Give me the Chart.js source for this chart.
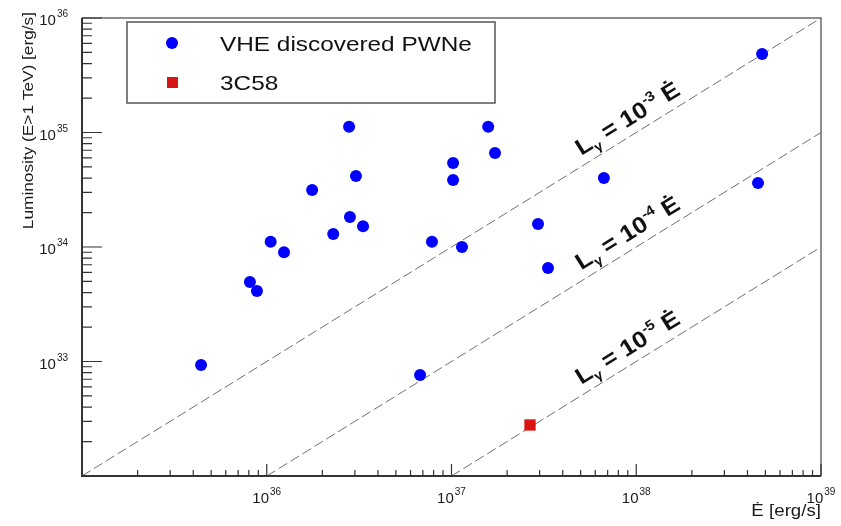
<!DOCTYPE html>
<html>
<head>
<meta charset="utf-8">
<script src="https://cdn.jsdelivr.net/npm/chart.js@4/dist/chart.umd.min.js"></script>
<style>
  html, body { margin: 0; padding: 0; background: #fff; }
  canvas { display: block; }
</style>
</head>
<body>
<canvas id="pwn-chart" width="841" height="526"></canvas>
<script>
// Spin-down power vs TeV luminosity of pulsar wind nebulae
const pwneEdot = [4.41e35, 8.11e35, 8.85e35, 1.05e36, 1.24e36, 1.76e36, 2.29e36, 2.79e36,
  2.82e36, 3.04e36, 3.32e36, 6.76e36, 7.84e36, 1.02e37, 1.02e37, 1.14e37, 1.58e37, 1.72e37,
  2.94e37, 3.33e37, 6.68e37, 4.80e38, 4.56e38];
const pwneLum = [9.3e32, 4.94e33, 4.13e33, 1.11e34, 9.0e33, 3.15e34, 1.30e34, 1.12e35,
  1.83e34, 4.17e34, 1.52e34, 7.62e32, 1.11e34, 5.42e34, 3.85e34, 1.0e34, 1.12e35, 6.62e34,
  1.59e34, 6.56e33, 4.01e34, 4.85e35, 3.62e34];
const c58Edot = [2.66e37];
const c58Lum = [2.79e32];

// efficiency lines L = eta * Edot
const etaValues = [1e-3, 1e-4, 1e-5];
const etaExponents = ['-3', '-4', '-5'];

const xRange = [1e35, 1e39];
const yRange = [1e32, 1e36];
const xTickLabels = ['36', '37', '38', '39'];
const yTickLabels = ['33', '34', '35', '36'];

const FONT = '"Liberation Sans", Arial, Helvetica, sans-serif';
const STRETCH = 1.15;

function toPoints(xs, ys) {
  return xs.map((x, i) => ({ x: x, y: ys[i] }));
}

// dashed line from the bottom edge of the frame up to the right edge
function etaLine(eta) {
  const start = Math.max(xRange[0], yRange[0] / eta);
  return [{ x: start, y: eta * start }, { x: xRange[1], y: eta * xRange[1] }];
}

const lineSets = etaValues.map(eta => ({
  type: 'line',
  label: 'eta ' + eta,
  data: etaLine(eta),
  borderColor: '#6e6e6e',
  borderWidth: 1,
  borderDash: [10, 4],
  pointRadius: 0,
  fill: false,
  order: 2
}));

function drawText(ctx, text, x, y, size, opts = {}) {
  ctx.save();
  ctx.font = (opts.bold ? 'bold ' : '') + size + 'px ' + FONT;
  ctx.fillStyle = opts.color || '#1a1a1a';
  ctx.textBaseline = 'alphabetic';
  ctx.translate(x, y);
  if (opts.rotate) ctx.rotate(opts.rotate);
  ctx.scale(opts.sx || STRETCH, 1);
  ctx.textAlign = opts.align || 'left';
  ctx.fillText(text, 0, 0);
  ctx.restore();
}

// "10" with a raised exponent, centred or right aligned at x
function drawPower(ctx, exp, x, y, align) {
  ctx.save();
  ctx.font = '15px ' + FONT;
  const wBase = ctx.measureText('10').width;
  ctx.font = '10px ' + FONT;
  const wExp = ctx.measureText(exp).width;
  ctx.restore();
  const total = wBase + wExp + 1;
  const left = align === 'right' ? x - total : x - total / 2;
  drawText(ctx, '10', left, y, 15, { sx: 1 });
  drawText(ctx, exp, left + wBase + 1, y - 8, 10, { sx: 1 });
}

// rotated "L_gamma = 10^exp Edot" label sitting on an eta line
function drawEtaLabel(ctx, xs, ys, eta, exp) {
  const anchorE = 1e38;
  const ax = xs.getPixelForValue(anchorE);
  const ay = ys.getPixelForValue(eta * anchorE);
  const bx = xs.getPixelForValue(anchorE * 10);
  const by = ys.getPixelForValue(eta * anchorE * 10);
  const angle = Math.atan2(by - ay, bx - ax);

  const parts = [
    { t: 'L', size: 23, dy: 0 },
    { t: 'γ', size: 13, dy: 5 },
    { t: ' = 10', size: 23, dy: 0 },
    { t: exp, size: 14, dy: -10 },
    { t: ' Ė', size: 23, dy: 0 }
  ];
  ctx.save();
  ctx.translate(ax, ay);
  ctx.rotate(angle);
  ctx.translate(0, -9);
  ctx.scale(1.1, 1);
  ctx.fillStyle = '#111';
  let total = 0;
  parts.forEach(p => {
    ctx.font = 'bold ' + p.size + 'px ' + FONT;
    p.w = ctx.measureText(p.t).width;
    total += p.w;
  });
  let cx = -total / 2;
  parts.forEach(p => {
    ctx.font = 'bold ' + p.size + 'px ' + FONT;
    ctx.fillText(p.t, cx, p.dy);
    cx += p.w;
  });
  ctx.restore();
}

const framePlugin = {
  id: 'rootFrame',
  afterDraw(chart) {
    const ctx = chart.ctx;
    const area = chart.chartArea;
    const xs = chart.scales.x;
    const ys = chart.scales.y;

    // top and right border
    ctx.save();
    ctx.strokeStyle = '#6a6a6a';
    ctx.lineWidth = 1.5;
    ctx.beginPath();
    ctx.moveTo(area.left, area.top);
    ctx.lineTo(area.right, area.top);
    ctx.lineTo(area.right, area.bottom);
    ctx.stroke();

    // axis lines
    ctx.strokeStyle = '#333';
    ctx.lineWidth = 2;
    ctx.beginPath();
    ctx.moveTo(area.left, area.top);
    ctx.lineTo(area.left, area.bottom);
    ctx.lineTo(area.right, area.bottom);
    ctx.stroke();

    // log ticks, major on each decade, minor on 2..9
    ctx.lineWidth = 1.2;
    ctx.beginPath();
    for (let d = xRange[0]; d < xRange[1] * 1.01; d *= 10) {
      for (let k = 1; k < 10; k++) {
        const v = d * k;
        if (v > xRange[1] * 1.001) break;
        const px = xs.getPixelForValue(v);
        const len = k === 1 ? 12 : 6;
        ctx.moveTo(px, area.bottom);
        ctx.lineTo(px, area.bottom - len);
      }
    }
    for (let d = yRange[0]; d < yRange[1] * 1.01; d *= 10) {
      for (let k = 1; k < 10; k++) {
        const v = d * k;
        if (v > yRange[1] * 1.001) break;
        const py = ys.getPixelForValue(v);
        const len = k === 1 ? 20 : 10;
        ctx.moveTo(area.left, py);
        ctx.lineTo(area.left + len, py);
      }
    }
    ctx.stroke();
    ctx.restore();

    // tick labels
    xTickLabels.forEach(exp => {
      const px = xs.getPixelForValue(Math.pow(10, Number(exp)));
      drawPower(ctx, exp, px, area.bottom + 27, 'center');
    });
    yTickLabels.forEach(exp => {
      const py = ys.getPixelForValue(Math.pow(10, Number(exp)));
      drawPower(ctx, exp, area.left - 14, py + 7, 'right');
    });

    // axis titles
    drawText(ctx, 'Ė [erg/s]', area.right, area.bottom + 40, 17, { align: 'right', sx: 1.1 });
    drawText(ctx, 'Luminosity (E>1 TeV) [erg/s]', 33, 12, 15, { align: 'right', rotate: -Math.PI / 2 });

    // efficiency labels
    etaValues.forEach((eta, i) => drawEtaLabel(ctx, xs, ys, eta, etaExponents[i]));

    // legend box
    ctx.save();
    ctx.fillStyle = '#fff';
    ctx.fillRect(127, 22, 368, 81);
    ctx.strokeStyle = '#555';
    ctx.lineWidth = 1.5;
    ctx.strokeRect(127, 22, 368, 81);
    ctx.fillStyle = '#0000ff';
    ctx.beginPath();
    ctx.arc(172, 43, 6, 0, Math.PI * 2);
    ctx.fill();
    ctx.fillStyle = '#d81414';
    ctx.fillRect(167, 77, 11, 11);
    ctx.restore();
    drawText(ctx, chart.data.datasets[0].label, 220, 51, 21, { sx: 1.16, color: '#111' });
    drawText(ctx, chart.data.datasets[1].label, 220, 90, 21, { sx: 1.16, color: '#111' });
  }
};

const chart = new Chart(document.getElementById('pwn-chart'), {
  type: 'scatter',
  data: {
    datasets: [
      {
        label: 'VHE discovered PWNe',
        data: toPoints(pwneEdot, pwneLum),
        pointStyle: 'circle',
        pointRadius: 6,
        pointHoverRadius: 6,
        backgroundColor: '#0000ff',
        borderWidth: 0,
        order: 0
      },
      {
        label: '3C58',
        data: toPoints(c58Edot, c58Lum),
        pointStyle: 'rect',
        pointRadius: 8,
        pointHoverRadius: 8,
        backgroundColor: '#d81414',
        borderWidth: 0,
        order: 0
      },
      ...lineSets
    ]
  },
  options: {
    responsive: false,
    animation: false,
    layout: { padding: { left: 82, right: 20, top: 18, bottom: 50 } },
    plugins: {
      legend: { display: false },
      tooltip: { enabled: false }
    },
    scales: {
      x: { type: 'logarithmic', min: xRange[0], max: xRange[1], display: false },
      y: { type: 'logarithmic', min: yRange[0], max: yRange[1], display: false }
    }
  },
  plugins: [framePlugin]
});
</script>
</body>
</html>
